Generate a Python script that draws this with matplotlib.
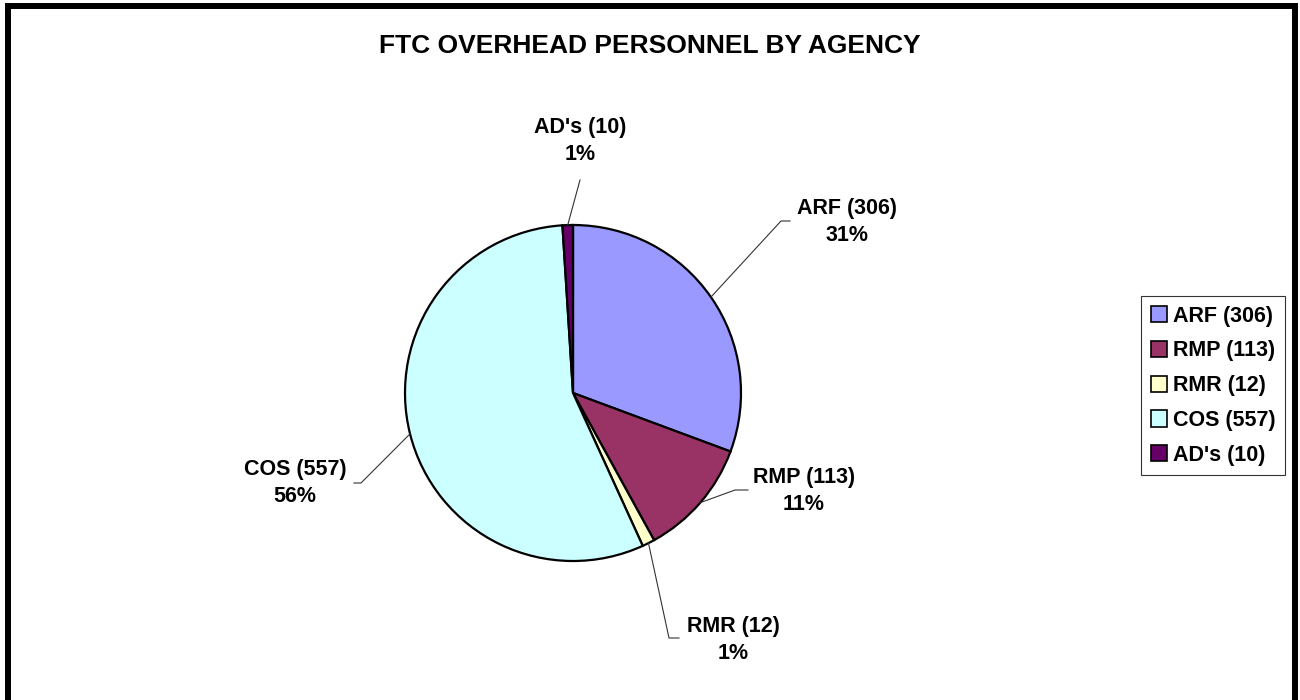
import numpy as np
import matplotlib.pyplot as plt
from matplotlib.patches import Rectangle, Patch

plt.rcParams['font.family'] = ['Liberation Sans', 'DejaVu Sans']

agencies = ["ARF", "RMP", "RMR", "COS", "AD's"]
counts = [306, 113, 12, 557, 10]
colors = ['#9999FF', '#993366', '#FFFFCC', '#CCFFFF', '#660066']
title = 'FTC OVERHEAD PERSONNEL BY AGENCY'

labels = ['%s (%d)' % (a, c) for a, c in zip(agencies, counts)]
total = sum(counts)
pcts = ['%d%%' % round(100.0 * c / total) for c in counts]

W, H = 1300, 700
fig = plt.figure(figsize=(13, 7), dpi=100)
ax = fig.add_axes([0, 0, 1, 1])

# pie in pixel units (y flipped so pixel y goes down)
cx, cy, r = 573, H - 393, 168
wedges, _ = ax.pie(counts, colors=colors, startangle=90, counterclock=False,
                   center=(cx, cy), radius=r,
                   wedgeprops=dict(edgecolor='black', linewidth=1.6))
ax.set_xlim(0, W)
ax.set_ylim(0, H)
ax.set_aspect('equal')
ax.axis('off')

# label text position and leader elbow, in pixels (y down)
text_pos = [(847, 222), (804, 491), (733, 640), (295, 483), (580, 141)]
elbows = [[(781, 221), (790, 221)],
          [(735, 490), (748, 490)],
          [(669, 638), (679, 638)],
          [(361, 483), (354, 483)],
          [(580, 180)]]

for w, lab, pct, tp, elb in zip(wedges, labels, pcts, text_pos, elbows):
    mid = np.deg2rad((w.theta1 + w.theta2) / 2.0)
    ex, ey = cx + r * np.cos(mid), cy + r * np.sin(mid)
    xs = [ex] + [p[0] for p in elb]
    ys = [ey] + [H - p[1] for p in elb]
    ax.plot(xs, ys, color='#333333', lw=0.8)
    ax.text(tp[0], H - tp[1], lab + '\n' + pct, ha='center', va='center',
            multialignment='center', fontsize=15.5, fontweight='bold',
            linespacing=1.35)

fig.text(650 / W, 1 - 46 / H, title, ha='center', va='center',
         fontsize=19, fontweight='bold')

handles = [Patch(facecolor=c, edgecolor='black', linewidth=1.2) for c in colors]
leg = fig.legend(handles, labels, loc='upper left',
                 bbox_to_anchor=(1141 / W, 1 - 296 / H), borderaxespad=0,
                 prop=dict(size=15.5, weight='bold'),
                 handlelength=0.78, handleheight=0.78, handletextpad=0.25,
                 labelspacing=0.64, borderpad=0.45, fancybox=False)
leg.get_frame().set_edgecolor('black')
leg.get_frame().set_linewidth(0.8)

# outer chart frame (bottom edge runs off the image)
fig.patches.append(Rectangle((7.5 / W, -0.05), 1287 / W, 1.05 - 6 / H,
                             transform=fig.transFigure, fill=False,
                             edgecolor='black', linewidth=4.3))

plt.savefig('out.png', dpi=100)
